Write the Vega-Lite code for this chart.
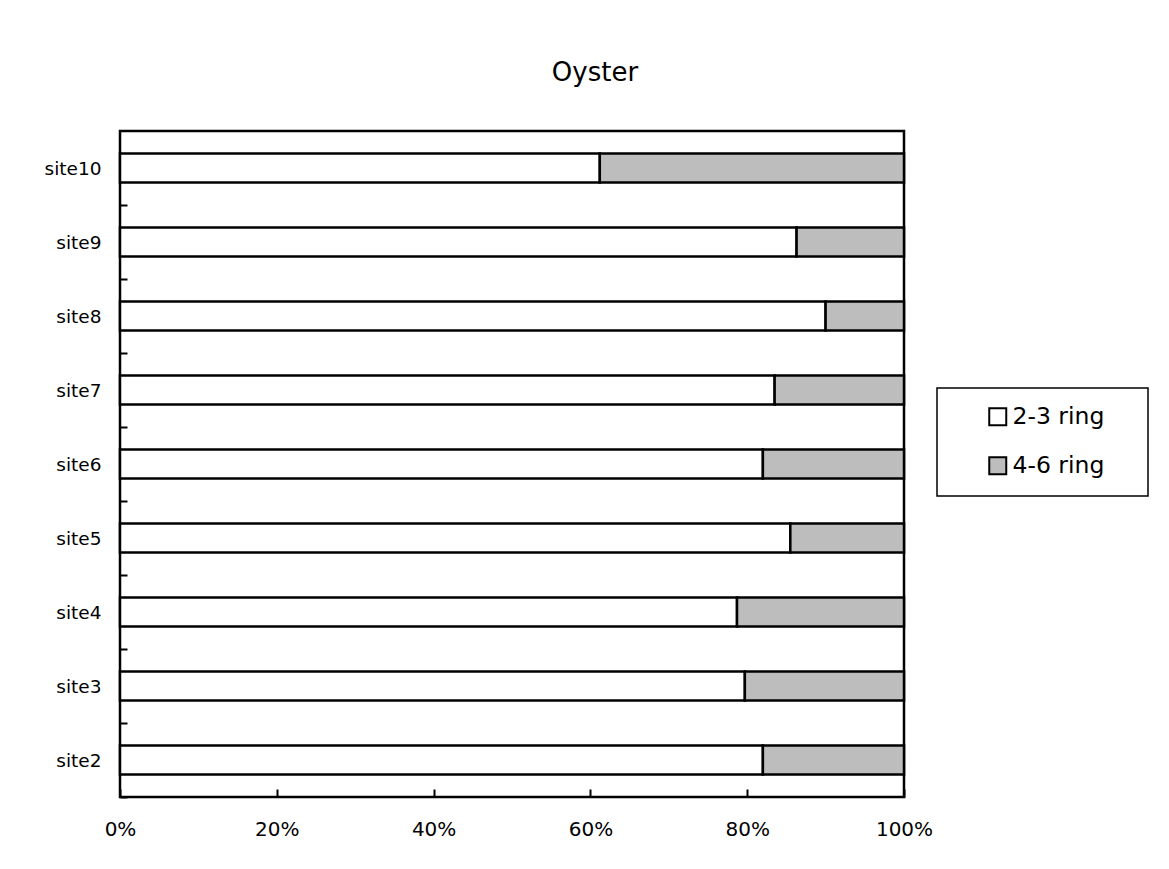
{
  "$schema": "https://vega.github.io/schema/vega-lite/v6.json",
  "width": 784,
  "height": 666,
  "autosize": {"type": "none"},
  "padding": {"left": 120, "top": 131, "right": 265, "bottom": 72},
  "background": "white",
  "title": {
    "text": "Oyster",
    "font": "DejaVu Sans",
    "fontSize": 26,
    "fontWeight": "normal",
    "color": "black",
    "anchor": "middle",
    "dx": 83,
    "offset": 45
  },
  "data": {
    "values": [
      {"site": "site10", "ring": "2-3 ring", "pct": 61.2},
      {"site": "site10", "ring": "4-6 ring", "pct": 38.8},
      {"site": "site9", "ring": "2-3 ring", "pct": 86.3},
      {"site": "site9", "ring": "4-6 ring", "pct": 13.7},
      {"site": "site8", "ring": "2-3 ring", "pct": 90.0},
      {"site": "site8", "ring": "4-6 ring", "pct": 10.0},
      {"site": "site7", "ring": "2-3 ring", "pct": 83.5},
      {"site": "site7", "ring": "4-6 ring", "pct": 16.5},
      {"site": "site6", "ring": "2-3 ring", "pct": 82.0},
      {"site": "site6", "ring": "4-6 ring", "pct": 18.0},
      {"site": "site5", "ring": "2-3 ring", "pct": 85.5},
      {"site": "site5", "ring": "4-6 ring", "pct": 14.5},
      {"site": "site4", "ring": "2-3 ring", "pct": 78.7},
      {"site": "site4", "ring": "4-6 ring", "pct": 21.3},
      {"site": "site3", "ring": "2-3 ring", "pct": 79.7},
      {"site": "site3", "ring": "4-6 ring", "pct": 20.3},
      {"site": "site2", "ring": "2-3 ring", "pct": 82.0},
      {"site": "site2", "ring": "4-6 ring", "pct": 18.0}
    ]
  },
  "mark": {"type": "bar", "stroke": "black", "strokeWidth": 2.5},
  "encoding": {
    "y": {
      "field": "site",
      "type": "nominal",
      "sort": ["site10", "site9", "site8", "site7", "site6", "site5", "site4", "site3", "site2"],
      "scale": {"paddingInner": 0.608, "paddingOuter": 0.304},
      "axis": {
        "title": null,
        "domain": false,
        "tickSize": -7,
        "tickOffset": 37,
        "labelOffset": -37,
        "tickWidth": 2,
        "tickColor": "black",
        "labelPadding": 26,
        "labelFont": "DejaVu Sans",
        "labelFontSize": 18.5,
        "labelColor": "black"
      }
    },
    "x": {
      "field": "pct",
      "type": "quantitative",
      "stack": "normalize",
      "scale": {"domain": [0, 1], "nice": false},
      "axis": {
        "title": null,
        "domain": false,
        "grid": false,
        "values": [0, 0.2, 0.4, 0.6, 0.8, 1],
        "format": ".0%",
        "tickSize": -8,
        "tickWidth": 2,
        "tickColor": "black",
        "labelPadding": 30,
        "labelFont": "DejaVu Sans",
        "labelFontSize": 20,
        "labelColor": "black",
        "labelFlush": false
      }
    },
    "fill": {
      "field": "ring",
      "type": "nominal",
      "scale": {"domain": ["2-3 ring", "4-6 ring"], "range": ["#ffffff", "#bdbdbd"]},
      "legend": {
        "title": " ",
        "titleOrient": "right",
        "titlePadding": 27,
        "orient": "none",
        "legendX": 817,
        "legendY": 257,
        "padding": 17,
        "symbolOffset": 32,
        "strokeColor": "black",
        "fillColor": "white",
        "symbolType": "square",
        "symbolSize": 289,
        "symbolStrokeColor": "black",
        "symbolStrokeWidth": 2,
        "labelFont": "DejaVu Sans",
        "labelFontSize": 23.5,
        "labelColor": "black",
        "labelOffset": 3,
        "rowPadding": 23
      }
    },
    "order": {"field": "ring", "sort": "ascending"}
  },
  "config": {
    "view": {"stroke": "black", "strokeWidth": 2.5},
    "legend": {"strokeWidth": 1.5}
  }
}
